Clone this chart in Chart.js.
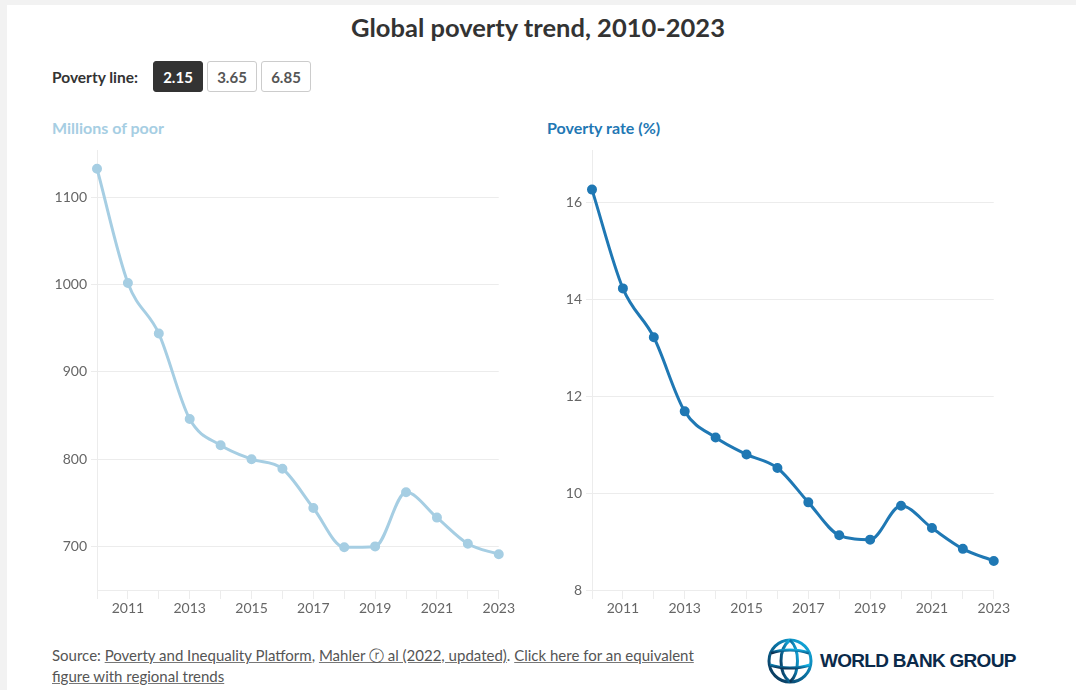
<!DOCTYPE html>
<html>
<head>
<meta charset="utf-8">
<script src="https://cdn.jsdelivr.net/npm/chart.js@4"></script>
<style>
  html, body { margin: 0; padding: 0; }
  body {
    width: 1076px; height: 690px; overflow: hidden;
    background: #f2f2f2; position: relative;
    font-family: Lato, "Noto Sans", sans-serif; color: #333;
  }
  .panel { position: absolute; left: 7px; top: 5px; right: 0; bottom: 0; background: #fff; }
  h1 {
    position: absolute; left: 0; width: 1076px; top: 12px; margin: 0;
    text-align: center; font-size: 25.5px; font-weight: 700; color: #333;
  }
  .controls { position: absolute; left: 52px; top: 61px; display: flex; align-items: center; }
  .controls .lbl { font-size: 15.5px; font-weight: 700; color: #333; margin-right: 15px; }
  .btn {
    box-sizing: border-box; width: 50px; height: 31px; margin-right: 4px;
    border: 1px solid #ccc; border-radius: 3px; background: #fff;
    font-size: 15px; font-weight: 700; color: #555;
    display: flex; align-items: center; justify-content: center;
  }
  .btn.active { background: #333; border-color: #333; color: #fff; }
  .subtitle { position: absolute; top: 118px; font-size: 16px; font-weight: 700; }
  .chart-box { position: absolute; top: 138px; width: 476px; height: 481px; }
  .source {
    position: absolute; left: 52px; top: 645px; width: 680px;
    font-size: 15px; line-height: 21px; color: #555;
  }
  .source u { text-decoration-color: #777; }
  .logo { position: absolute; left: 766px; top: 637px; display: flex; align-items: center; }
  .logo span {
    font-family: "Liberation Sans", Arial, sans-serif; font-weight: 700;
    font-size: 19px; color: #0b2a4a; margin-left: 6px; letter-spacing: -0.7px;
  }
</style>
</head>
<body>
<div class="panel"></div>
<h1>Global poverty trend, 2010-2023</h1>

<div class="controls">
  <span class="lbl">Poverty line:</span>
  <div class="btn active">2.15</div>
  <div class="btn">3.65</div>
  <div class="btn">6.85</div>
</div>

<div class="subtitle" style="left:52px; color:#a6cee3">Millions of poor</div>
<div class="subtitle" style="left:547px; color:#1f78b4">Poverty rate (%)</div>

<div class="chart-box" style="left:40px"><canvas id="poorChart"></canvas></div>
<div class="chart-box" style="left:535px"><canvas id="rateChart"></canvas></div>

<div class="source">Source: <u>Poverty and Inequality Platform</u>, <u>Mahler ⓡ al (2022, updated)</u>. <u>Click here for an equivalent figure with regional trends</u></div>

<div class="logo">
  <svg width="48" height="48" viewBox="0 0 48 48">
    <defs>
      <linearGradient id="g" x1="1" y1="0" x2="0" y2="1">
        <stop offset="0" stop-color="#14b5e8"/>
        <stop offset="0.5" stop-color="#0a6e9e"/>
        <stop offset="1" stop-color="#0b2a4a"/>
      </linearGradient>
    </defs>
    <g fill="none" stroke="url(#g)" stroke-width="3">
      <circle cx="24" cy="24" r="21"/>
      <path d="M24 3 C12 12 12 36 24 45"/>
      <path d="M24 3 C34 12 34 36 24 45"/>
      <path d="M5 16 C16 12 32 12 43 16"/>
      <path d="M4 28 C16 32 32 32 44 28"/>
      <path d="M24 3 L24 45"/>
    </g>
  </svg>
  <span>WORLD BANK GROUP</span>
</div>

<script>
// ─── Data ─────────────────────────────────────────────────
const years        = ['2010','2011','2012','2013','2014','2015','2016','2017','2018','2019','2020','2021','2022','2023'];
const poorMillions = [1133, 1002, 944, 846, 816, 800, 789, 744, 699, 700, 762, 733, 703, 691];
const povertyRate  = [16.27, 14.23, 13.22, 11.69, 11.15, 10.8, 10.52, 9.81, 9.13, 9.04, 9.74, 9.28, 8.85, 8.6];
const poorTicks    = [700, 800, 900, 1000, 1100];
const rateTicks    = [8, 10, 12, 14, 16];

const GRID = '#ececec';
const TICK = '#666';
const FONT = "Lato, 'Noto Sans', sans-serif";

function makeChart(id, data, color, yMin, yMax, yTicks) {
    const canvas = document.getElementById(id);
    canvas.width = 476;
    canvas.height = 481;
    return new Chart(canvas.getContext('2d'), {
        type: 'line',
        data: {
            labels: years,
            datasets: [{
                data,
                borderColor: color,
                backgroundColor: color,
                borderWidth: 3,
                pointRadius: 3.5,
                pointHoverRadius: 3.5,
                cubicInterpolationMode: 'monotone',
            }]
        },
        options: {
            responsive: false,
            animation: false,
            layout: { padding: { top: 0, right: 11, left: 0, bottom: 0 } },
            plugins: { legend: { display: false }, tooltip: { enabled: false } },
            scales: {
                x: {
                    offset: false,
                    grid: { drawOnChartArea: false, drawTicks: true, tickLength: 9, color: GRID },
                    border: { color: GRID },
                    ticks: {
                        color: TICK, font: { family: FONT, size: 14 },
                        maxRotation: 0, autoSkip: false, padding: 1,
                        callback: (v, i) => (i % 2 === 1 ? years[i] : '')
                    },
                    afterFit: s => { s.height = 29; }
                },
                y: {
                    min: yMin, max: yMax,
                    ticks: {
                        color: TICK, font: { family: FONT, size: 14 }, padding: 4,
                        callback: v => String(v)
                    },
                    grid: { color: GRID, tickLength: 6 },
                    border: { color: GRID },
                    afterBuildTicks: s => { s.ticks = yTicks.map(v => ({ value: v })); },
                    afterFit: s => { s.width = 57; }
                }
            }
        }
    });
}

makeChart('poorChart', poorMillions, '#a6cee3', 650, 1154, poorTicks);
makeChart('rateChart', povertyRate, '#1f78b4', 8, 17.08, rateTicks);
</script>
</body>
</html>
